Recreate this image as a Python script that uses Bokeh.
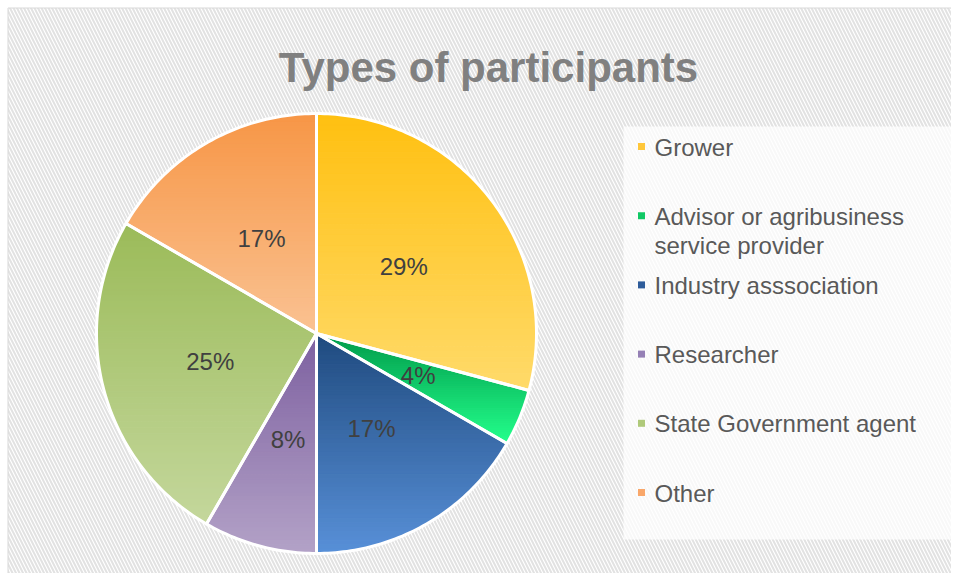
import math
from bokeh.plotting import figure
from bokeh.models import Range1d
from bokeh.core.properties import value
from bokeh.embed import file_html
from bokeh.resources import INLINE

# ---- data ----
categories = ["Grower", "Advisor or agribusiness\nservice provider", "Industry asssociation",
              "Researcher", "State Government agent", "Other"]
counts = [7, 1, 4, 2, 6, 4]
title_text = "Types of participants"

# ---- styles ----
top_colors = ["#FFC010", "#009A4A", "#1F4A7E", "#7D60A0", "#9BBB59", "#F79646"]
bottom_colors = ["#FFDA6A", "#24FF8C", "#5890D8", "#B3A2C7", "#C4D79C", "#FAC292"]
legend_colors = ["#FFC73A", "#10C864", "#2E5C9A", "#9580B5", "#AFC97A", "#F9A76A"]

W, H = 951, 573
p = figure(width=W, height=H, x_range=Range1d(0, W), y_range=Range1d(H, 0),
           output_backend="svg", toolbar_location=None, min_border=0)
p.axis.visible = False
p.grid.visible = False
p.outline_line_color = None
p.background_fill_color = "white"
p.border_fill_color = "white"

# hatched chart background with light border
p.quad(left=[7.5], right=[W + 5], top=[7.5], bottom=[H + 5], fill_color="white",
       line_color="#D9D9D9", line_width=1,
       hatch_pattern="\\", hatch_color="#E2E2E2", hatch_weight=2, hatch_scale=7)

# legend panel background
p.quad(left=[623], right=[W + 5], top=[126], bottom=[539], fill_color="white",
       fill_alpha=0.75, line_color=None)

cx, cy, r = 316, 333, 220
total = sum(counts)


def hex2rgb(h):
    h = h.lstrip("#")
    return tuple(int(h[i:i + 2], 16) for i in (0, 2, 4))


def lerp(c1, c2, t):
    a, b = hex2rgb(c1), hex2rgb(c2)
    return "#%02x%02x%02x" % tuple(int(round(a[i] + (b[i] - a[i]) * t)) for i in range(3))


def clip(poly, y0, y1):
    def clip_edge(pts, keep, inter):
        out = []
        n = len(pts)
        for i in range(n):
            cur, prev = pts[i], pts[i - 1]
            if keep(cur):
                if not keep(prev):
                    out.append(inter(prev, cur))
                out.append(cur)
            elif keep(prev):
                out.append(inter(prev, cur))
        return out

    def ix(yv):
        def f(a, b):
            t = (yv - a[1]) / (b[1] - a[1])
            return (a[0] + t * (b[0] - a[0]), yv)
        return f

    pts = clip_edge(poly, lambda q: q[1] >= y0, ix(y0))
    if not pts:
        return []
    pts = clip_edge(pts, lambda q: q[1] <= y1, ix(y1))
    return pts


band_xs, band_ys, band_cols = [], [], []
out_xs, out_ys = [], []
lab_x, lab_y, lab_t = [], [], []
acc = 0.0
for i, c in enumerate(counts):
    a0 = acc / total * 2 * math.pi
    acc += c
    a1 = acc / total * 2 * math.pi
    n = max(4, int((a1 - a0) / math.radians(1)))
    poly = [(cx, cy)] + [(cx + r * math.sin(a0 + (a1 - a0) * k / n),
                          cy - r * math.cos(a0 + (a1 - a0) * k / n)) for k in range(n + 1)]
    out_xs.append([q[0] for q in poly])
    out_ys.append([q[1] for q in poly])
    ymin = min(q[1] for q in poly)
    ymax = max(q[1] for q in poly)
    nb = 50
    for b in range(nb):
        y0 = ymin + (ymax - ymin) * b / nb
        y1 = ymin + (ymax - ymin) * (b + 1) / nb
        seg = clip(poly, y0, y1)
        if len(seg) >= 3:
            band_xs.append([q[0] for q in seg])
            band_ys.append([q[1] for q in seg])
            band_cols.append(lerp(top_colors[i], bottom_colors[i], (b + 0.5) / nb))
    am = (a0 + a1) / 2
    lab_x.append(cx + 0.5 * r * math.sin(am))
    lab_y.append(cy - 0.5 * r * math.cos(am))
    lab_t.append("%d%%" % round(100 * c / total))

p.patches(band_xs, band_ys, fill_color=band_cols, line_color=band_cols, line_width=1)
p.patches(out_xs, out_ys, fill_alpha=0, line_color="white", line_width=3, line_join="round")

p.text(x=lab_x, y=lab_y, text=lab_t, text_align="center", text_baseline="middle",
       text_font=value("Liberation Sans"), text_font_size="24px", text_color="#404040")

# title
p.text(x=[488], y=[67], text=[title_text], text_align="center", text_baseline="alphabetic",
       text_font=value("Liberation Sans"), text_font_style="bold", text_font_size="42px",
       text_color="#808080")

# legend
ly = [146 + 69.2 * i for i in range(len(categories))]
p.scatter(x=[641] * len(categories), y=ly, marker="square", size=7,
          fill_color=legend_colors, line_color=None)
p.text(x=[654] * len(categories), y=[v - 13 for v in ly], text=categories, text_align="left",
       text_baseline="top", text_font=value("Liberation Sans"), text_font_size="24px",
       text_color="#595959", text_line_height=1.08)

open("out.html", "w").write(file_html(p, INLINE))
